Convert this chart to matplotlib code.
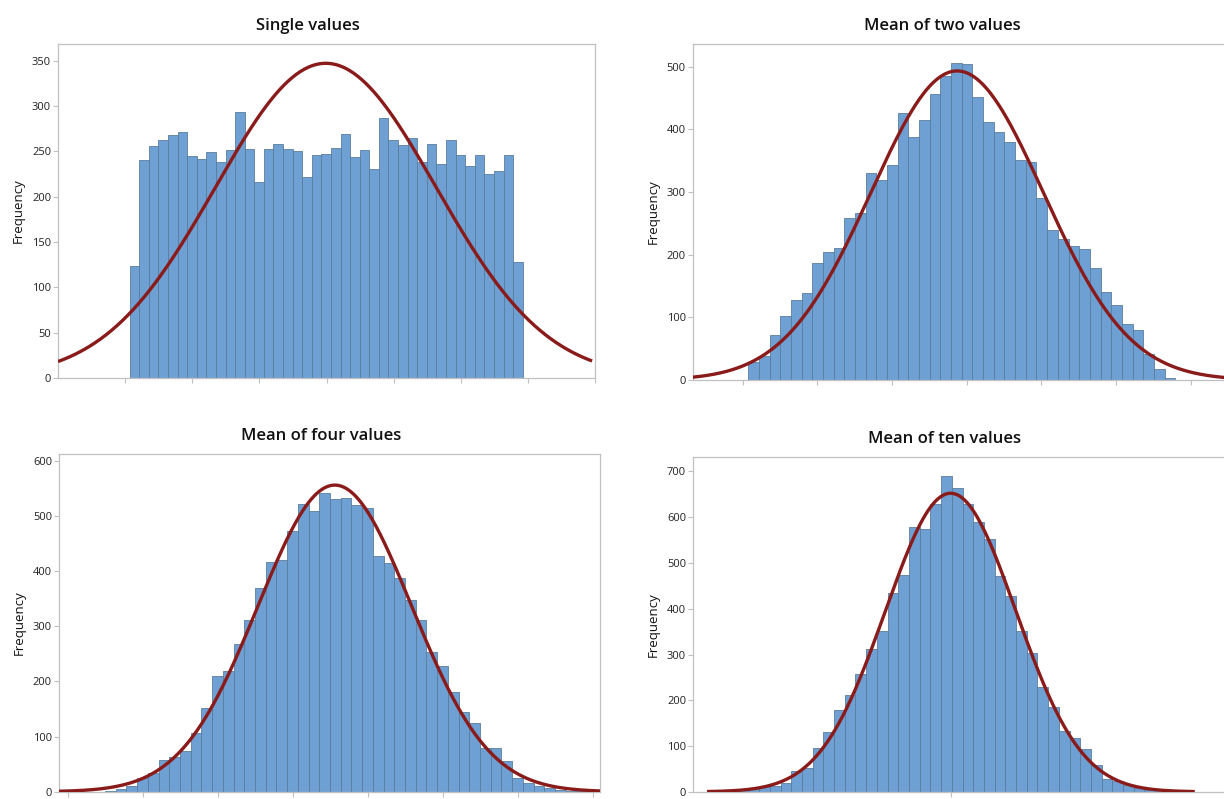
import numpy as np
import matplotlib
matplotlib.use("Agg")
import matplotlib.pyplot as plt

# Bin counts (bin width = 1 unit, left edge of first bin = 0)
counts_single = [0, 0, 0, 0,
                 123, 240, 256, 262, 268, 271, 245, 242, 249, 238,
                 252, 293, 253, 216, 253, 258, 253, 250, 222, 246,
                 247, 254, 269, 244, 252, 231, 287, 263, 257, 265,
                 238, 258, 236, 263, 246, 234, 246, 225, 228, 246,
                 128, 0, 0, 0, 0, 0]
counts_two = [28, 38, 72, 102, 128, 139, 187, 205, 210, 259,
              266, 331, 319, 343, 426, 388, 415, 456, 485, 505,
              504, 452, 412, 395, 379, 351, 347, 290, 239, 225,
              214, 209, 178, 141, 120, 89, 79, 41, 17, 3]
counts_four = [2, 5, 10, 24, 34, 57, 63, 74, 107, 151,
               209, 218, 268, 311, 369, 416, 420, 472, 521, 508,
               542, 530, 532, 520, 514, 428, 414, 388, 347, 311,
               254, 228, 181, 145, 124, 80, 80, 55, 24, 16,
               10, 6, 4, 2, 1]
counts_ten = [1, 3, 7, 10, 13, 19, 45, 53, 96, 130,
              179, 212, 258, 312, 352, 434, 473, 578, 574, 629,
              689, 664, 629, 590, 553, 471, 428, 352, 304, 229,
              186, 133, 117, 94, 58, 29, 23, 14, 9, 5,
              3, 1]

titles = ["Single values", "Mean of two values", "Mean of four values", "Mean of ten values"]

# fitted normal curves (mean, sd) in bin units
fit_mean = [24.46, 19.56, 21.45, 20.89]
fit_sd = [11.5, 8.08, 7.16, 6.09]

y_max = [350, 500, 600, 700]

bar_color = "#6fa0d4"
edge_color = "#5a7d9c"
curve_color = "#8a1b1b"
frame_color = "#c0c0c0"

plt.rcParams["font.family"] = ["Open Sans", "DejaVu Sans"]

fig = plt.figure(figsize=(12.24, 7.99), dpi=100)

# axes boxes in figure fraction: left, bottom, width, height
boxes = [
    [0.0474, 0.5269, 0.4387, 0.4180],
    [0.5660, 0.5244, 0.4373, 0.4205],
    [0.0482, 0.0091, 0.4420, 0.4233],
    [0.5662, 0.0090, 0.4370, 0.4187],
]
xlims = [(-3.47, 52.24), (-5.21, 44.95), (-4.29, 46.2), (-3.18, 46.8)]
ylims = [368.4, 536, 613, 731]
xticks = [
    [3.54 + 7 * k for k in range(8)],
    [-0.54 + 7 * k for k in range(7)],
    [-3.48 + 7 * k for k in range(8)],
    [20.89],
]
curve_range = [None, None, None, (-1.87, 43.7)]
title_x = [0.465, 0.466, 0.485, 0.470]

all_counts = [counts_single, counts_two, counts_four, counts_ten]

for i, counts in enumerate(all_counts):
    ax = fig.add_axes(boxes[i])
    counts = np.array(counts, dtype=float)
    edges = np.arange(len(counts))
    ax.bar(edges, counts, width=1.0, align="edge", color=bar_color,
           edgecolor=edge_color, linewidth=0.6, zorder=2)

    # normal fit
    if curve_range[i] is None:
        lo, hi = xlims[i]
    else:
        lo, hi = curve_range[i]
    xs = np.linspace(lo, hi, 400)
    n = counts.sum()
    pdf = np.exp(-0.5 * ((xs - fit_mean[i]) / fit_sd[i]) ** 2) / (fit_sd[i] * np.sqrt(2 * np.pi))
    ax.plot(xs, n * pdf, color=curve_color, linewidth=2.4, zorder=3,
            solid_capstyle="butt")

    ax.set_xlim(*xlims[i])
    ax.set_ylim(0, ylims[i])
    ax.set_yticks(np.arange(0, y_max[i] + 1, 50 if i == 0 else 100))
    ax.set_xticks(xticks[i])
    ax.set_xticklabels([])
    ax.tick_params(axis="both", colors=frame_color, labelcolor="#222222",
                   labelsize=8, length=3.5, width=0.8, pad=1.5)
    for sp in ax.spines.values():
        sp.set_color(frame_color)
        sp.set_linewidth(0.9)
    ax.set_ylabel("Frequency", fontsize=9.5, color="#111111", labelpad=5)
    ax.set_title(titles[i], fontsize=12, fontweight="semibold", color="#111111",
                 x=title_x[i], pad=10)

fig.savefig("out.png", dpi=100)
